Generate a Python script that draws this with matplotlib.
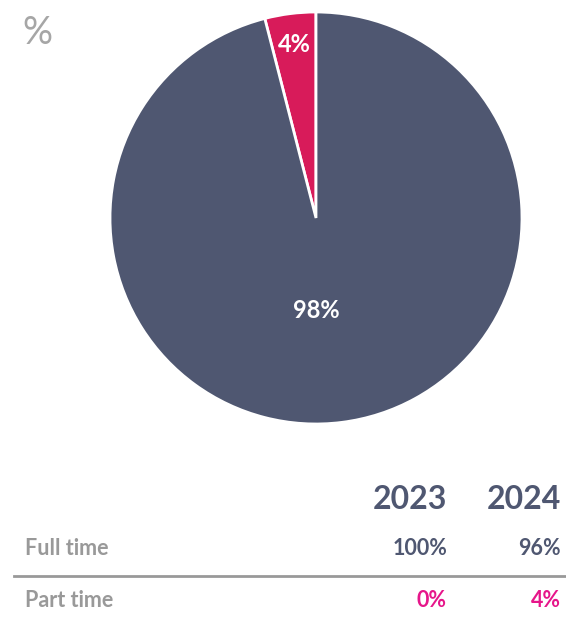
import numpy as np
import matplotlib.pyplot as plt

plt.rcParams['font.family'] = ['Lato', 'DejaVu Sans']

# pie data (2024)
slice_names = ['Part time', 'Full time']
slice_values = [4, 96]
slice_labels = ['4%', '98%']
slice_colors = ['#d81b5a', '#4f5771']

# table data
years = ['2023', '2024']
row_names = ['Full time', 'Part time']
row_values = [['100%', '96%'], ['0%', '4%']]
row_colors = ['#4f5771', '#e6168a']

W, H = 566, 621
fig = plt.figure(figsize=(W / 100, H / 100), dpi=100)

# pie: centre (316, 218), radius 206 px
cx, cy, r = 316, 218, 206
ax = fig.add_axes([(cx - r) / W, (H - cy - r) / H, 2 * r / W, 2 * r / H])
wedges, _ = ax.pie(slice_values, colors=slice_colors, startangle=90, counterclock=True,
                   radius=1, wedgeprops=dict(edgecolor='white', linewidth=2))
# label spots: small slice near the rim, big slice straight below the centre
w0 = wedges[0]
ang0 = np.deg2rad((w0.theta1 + w0.theta2) / 2)
label_pos = [(0.85 * np.cos(ang0), 0.85 * np.sin(ang0)), (0, -0.45)]
for lab, (lx, ly) in zip(slice_labels, label_pos):
    ax.text(lx, ly, lab, ha='center', va='center',
            color='white', fontsize=17, fontweight='bold')
ax.set_xlim(-1, 1)
ax.set_ylim(-1, 1)
ax.set_aspect('equal')
ax.axis('off')

fig.text(22 / W, 1 - 33 / H, '%', fontsize=27, color='#a6a6a6', va='center', ha='left')

# table
def fy(py):
    return 1 - py / H

col_x = [447 / W, 561 / W]
for x, yr in zip(col_x, years):
    fig.text(x, fy(509), yr, ha='right', va='baseline', fontsize=23,
             fontweight='bold', color='#4f5771')

row_base = [555, 607]
for i, name in enumerate(row_names):
    fig.text(25 / W, fy(row_base[i]), name, ha='left', va='baseline', fontsize=15.5,
             fontweight='bold', color='#999999')
    for x, v in zip(col_x, row_values[i]):
        fig.text(x, fy(row_base[i]), v, ha='right', va='baseline', fontsize=15.5,
                 fontweight='bold', color=row_colors[i])

fig.add_artist(plt.Line2D([14 / W, 1], [fy(576), fy(576)], color='#999999', linewidth=2))

fig.savefig('out.png', dpi=100, facecolor='white')
